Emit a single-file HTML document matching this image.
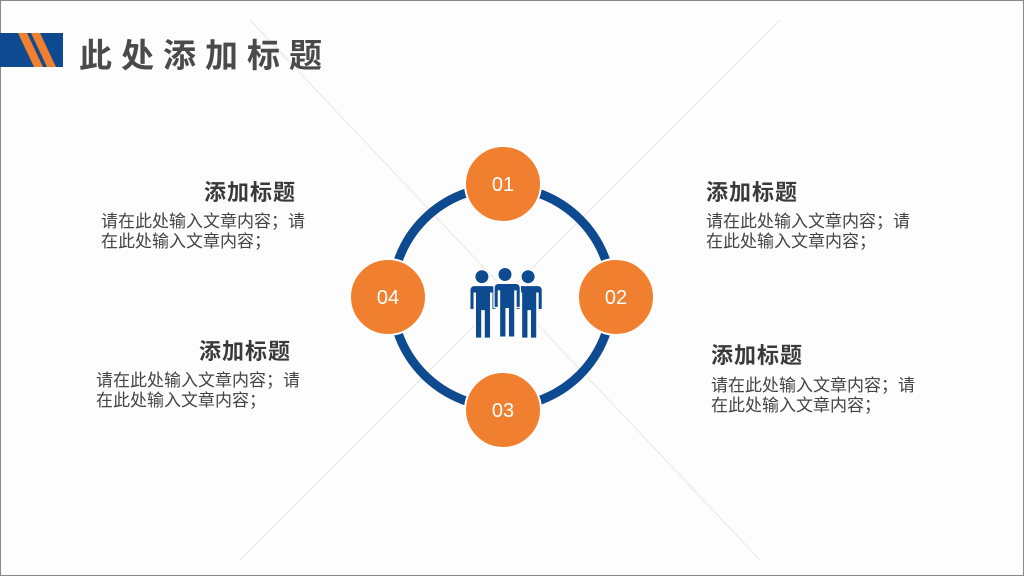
<!DOCTYPE html>
<html><head><meta charset="utf-8"><style>
html,body{margin:0;padding:0}
body{width:1024px;height:576px;position:relative;background:#fdfdfd;overflow:hidden;font-family:"Liberation Sans","Noto Sans CJK SC",sans-serif}
.t{position:absolute;color:#3a3a3a;font-weight:bold;font-size:22px;letter-spacing:1px;white-space:nowrap}
.p{position:absolute;color:#444;font-size:17px;line-height:20px;white-space:nowrap}
</style></head><body>
<svg width="1024" height="576" style="position:absolute;left:0;top:0">
<rect x="0.5" y="0.5" width="1023" height="575" fill="none" stroke="#888"/>
<g stroke="#ededed" stroke-width="1.5">
<line x1="250" y1="20" x2="760" y2="560"/>
<line x1="780" y1="20" x2="240" y2="560"/>
</g>
<rect x="0" y="33" width="63" height="34" fill="#0d4a8f"/>
<polygon points="18,33 27,33 43,67 34,67" fill="#f08030"/>
<polygon points="31,33 40,33 56,67 47,67" fill="#f08030"/>
<circle cx="502" cy="297" r="110" fill="none" stroke="#0d4a8f" stroke-width="9"/>
<g fill="#f08030" stroke="#fff" stroke-width="2">
<circle cx="503" cy="184" r="38"/>
<circle cx="616" cy="297" r="38"/>
<circle cx="388" cy="297" r="38"/>
<circle cx="503" cy="410" r="38"/>
</g>
<g fill="#fff" font-family="Liberation Sans,sans-serif" font-size="20" text-anchor="middle">
<text x="503" y="191">01</text>
<text x="616" y="304">02</text>
<text x="388" y="304">04</text>
<text x="503" y="417">03</text>
</g>
<g transform="translate(505,302) scale(1.1) translate(-504,-302)">
<g fill="#0d4a8f" stroke="#fff" stroke-width="1.2">
<g transform="translate(483,0)"><circle cx="0" cy="279" r="6.5"/><path d="M-9,287 h18 a4,4 0 0 1 4,4 v18 h-4 v-15 h-1 v41 h-6 v-25 h-2 v25 h-6 v-41 h-1 v15 h-4 v-18 a4,4 0 0 1 4,-4z"/></g>
<g transform="translate(525,0)"><circle cx="0" cy="279" r="6.5"/><path d="M-9,287 h18 a4,4 0 0 1 4,4 v18 h-4 v-15 h-1 v41 h-6 v-25 h-2 v25 h-6 v-41 h-1 v15 h-4 v-18 a4,4 0 0 1 4,-4z"/></g>
<g transform="translate(504,-2)"><circle cx="0" cy="279" r="6.5"/><path d="M-10,287 h20 a4,4 0 0 1 4,4 v18 h-4 v-15 h-1 v42 h-6 v-26 h-2 v26 h-6 v-42 h-1 v15 h-4 v-18 a4,4 0 0 1 4,-4z"/></g>
</g></g>
</svg>
<div style="position:absolute;left:79px;top:29px;font-size:33px;font-weight:bold;color:#4a4a4a;letter-spacing:9px;white-space:nowrap">此处添加标题</div>
<div class="t" style="left:204px;top:175px">添加标题</div>
<div class="p" style="left:101px;top:212px">请在此处输入文章内容；请<br>在此处输入文章内容；</div>
<div class="t" style="left:199px;top:334px">添加标题</div>
<div class="p" style="left:96px;top:371px">请在此处输入文章内容；请<br>在此处输入文章内容；</div>
<div class="t" style="left:706px;top:175px">添加标题</div>
<div class="p" style="left:706px;top:212px">请在此处输入文章内容；请<br>在此处输入文章内容；</div>
<div class="t" style="left:711px;top:338px">添加标题</div>
<div class="p" style="left:711px;top:376px">请在此处输入文章内容；请<br>在此处输入文章内容；</div>
</body></html>
